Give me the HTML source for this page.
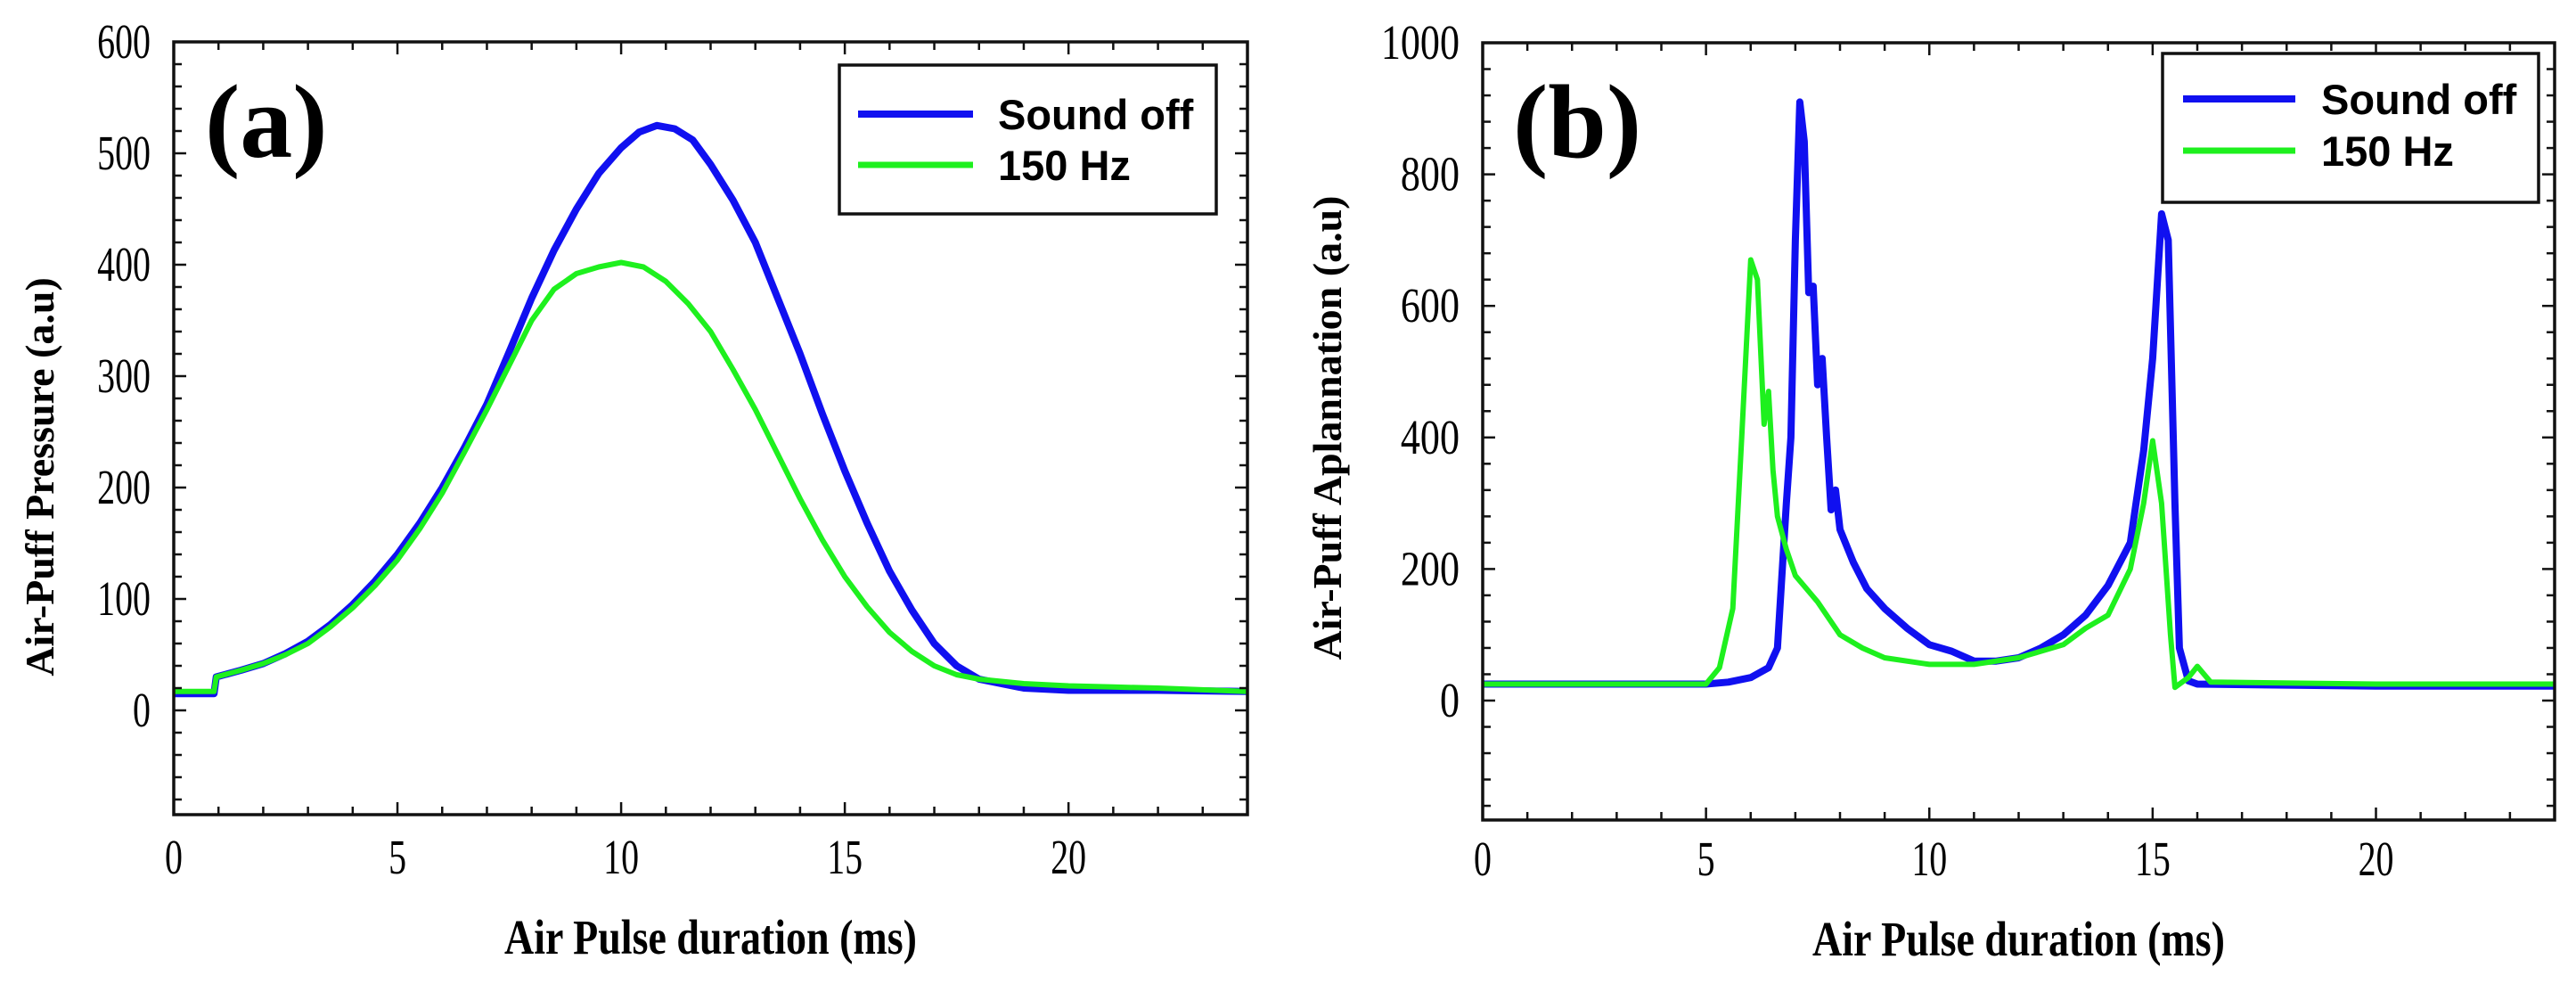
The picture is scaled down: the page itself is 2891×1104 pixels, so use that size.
<!DOCTYPE html>
<html><head><meta charset="utf-8"><style>
html,body{margin:0;padding:0;background:#fff;}
svg{display:block;}
</style></head><body>
<svg id="fig" xmlns="http://www.w3.org/2000/svg" width="2891" height="1104" viewBox="0 0 2891 1104">
<rect width="2891" height="1104" fill="#fff"/>
<g id="pa"></g>
<g id="pb"></g>
</svg>
<script>
// Panel (a) data
const aBlueX = [0,0.9,0.95,1.5,2,2.5,3,3.5,4,4.5,5,5.5,6,6.5,7,7.5,8,8.5,9,9.5,10,10.4,10.8,11.2,11.6,12,12.5,13,13.5,14,14.5,15,15.5,16,16.5,17,17.5,18,19,20,22,24];
const aBlueY = [15,15,30,36,42,51,62,77,95,116,140,168,200,236,275,322,370,413,450,482,505,519,525,522,512,490,458,420,370,320,266,215,168,125,90,60,40,28,20,18,18,17];
const aGreenX = [0,0.9,0.95,1.5,2,2.5,3,3.5,4,4.5,5,5.5,6,6.5,7,7.5,8,8.5,9,9.5,10,10.5,11,11.5,12,12.5,13,13.5,14,14.5,15,15.5,16,16.5,17,17.5,18,19,20,21,22,24];
const aGreenY = [17,17,30,36,42,50,60,75,92,112,135,163,195,232,270,310,350,378,392,398,402,398,385,365,340,306,270,230,190,153,120,93,70,53,40,32,28,24,22,21,20,17];
// Panel (b) data
const bBlueX = [0,5,5.5,6,6.4,6.6,6.8,6.9,7.0,7.1,7.2,7.3,7.4,7.5,7.6,7.7,7.8,7.9,8,8.3,8.6,9,9.5,10,10.5,11,11.5,12,12.5,13,13.5,14,14.5,14.8,15.0,15.2,15.35,15.5,15.6,15.8,16,20,24];
const bBlueY = [25,25,28,35,50,80,300,400,700,910,850,620,630,480,520,400,290,320,260,210,170,140,110,85,75,60,60,65,80,100,130,175,240,380,520,740,700,300,80,30,25,22,22];
const bGreenX = [0,5,5.3,5.6,5.8,6.0,6.15,6.3,6.4,6.5,6.6,6.8,7,7.5,8,8.5,9,10,11,12,13,13.5,14,14.5,14.8,15.0,15.2,15.4,15.5,15.8,16,16.3,20,24];
const bGreenY = [25,25,50,140,400,670,640,420,470,350,280,230,190,150,100,80,65,55,55,65,85,110,130,200,300,395,300,100,20,35,52,28,25,25];
const xTicks = [0,5,10,15,20];
const aYTicks = [0,100,200,300,400,500,600];
const bYTicks = [0,200,400,600,800,1000];
const seriesNames = ["Sound off","150 Hz"];

const NS="http://www.w3.org/2000/svg";
function mk(parent,tag,attrs,text){const e=document.createElementNS(NS,tag);for(const k in attrs)e.setAttribute(k,attrs[k]);if(text!==undefined)e.textContent=text;parent.appendChild(e);return e;}

function panel(g,cfg){
  const L=cfg.L,R=cfg.R,T=cfg.T,B=cfg.B;
  const sx=v=>L+(v-0)/(24-0)*(R-L);
  const sy=v=>cfg.y0px-(v)/(cfg.yTop)*(cfg.y0px-T);
  const sers=[[cfg.bx,cfg.by,"#1010f0",8,"series-sound-off"],[cfg.gx,cfg.gy,"#1ef01e",6,"series-150hz"]];
  for(const s of sers){
    const pts=s[0].map((x,i)=>sx(x).toFixed(1)+","+sy(s[1][i]).toFixed(1)).join(" ");
    const p=mk(g,"polyline",{points:pts,fill:"none",stroke:s[2],"stroke-width":s[3],"stroke-linejoin":"round"});
    
    
  }
  const fr=mk(g,"rect",{x:L,y:T,width:R-L,height:B-T,fill:"none",stroke:"#111","stroke-width":3.5});
  
  
  for(let v=0;v<=24;v++){
    const len=v%5===0?14:9;const x=sx(v);
    mk(g,"line",{x1:x,y1:B,x2:x,y2:B-len,stroke:"#111","stroke-width":2.5});
    mk(g,"line",{x1:x,y1:T,x2:x,y2:T+len,stroke:"#111","stroke-width":2.5});
  }
  for(const v of xTicks){
    const t=mk(g,"text",{x:0,y:0,transform:`translate(${sx(v)},${cfg.xlabY}) scale(0.95,1.3)`,"text-anchor":"middle","font-family":"Liberation Serif, serif","font-size":42},String(v));
    
    
  }
  for(let v=cfg.yMinor*Math.ceil(cfg.yMin/cfg.yMinor);v<=cfg.yTop;v+=cfg.yMinor){
    const y=sy(v);const len=(v%cfg.yMajor===0)?14:9;
    mk(g,"line",{x1:L,y1:y,x2:L+len,y2:y,stroke:"#111","stroke-width":2.5});
    mk(g,"line",{x1:R,y1:y,x2:R-len,y2:y,stroke:"#111","stroke-width":2.5});
  }
  for(const v of cfg.yTicks){
    const t=mk(g,"text",{x:0,y:0,transform:`translate(${L-26},${sy(v)+18}) scale(${cfg.ylsx},1.3)`,"text-anchor":"end","font-family":"Liberation Serif, serif","font-size":42},String(v));
    
    
  }
  const xt=mk(g,"text",{x:0,y:0,transform:`translate(${(L+R)/2},${cfg.xtY}) scale(1,1.2)`,"text-anchor":"middle","font-family":"Liberation Serif, serif","font-size":46,"font-weight":"bold"},"Air Pulse duration (ms)");
  
  
  const yt=mk(g,"text",{x:0,y:0,transform:`translate(${cfg.ytX},${cfg.ytY}) rotate(-90)`,"text-anchor":"middle","font-family":"Liberation Serif, serif","font-size":46,"font-weight":"bold"},cfg.ytitle);
  
  
  const pl=mk(g,"text",{x:cfg.plX,y:cfg.plY,"font-family":"Liberation Serif, serif","font-size":118,"font-weight":"bold"},cfg.plabel);
  
  
  const lg=mk(g,"g",{});
  
  
  const lb=cfg.leg;
  mk(lg,"rect",{x:lb[0],y:lb[1],width:lb[2]-lb[0],height:lb[3]-lb[1],fill:"#fff",stroke:"#111","stroke-width":3.5});
  const cols=["#1010f0","#1ef01e"];
  for(let i=0;i<2;i++){
    const y=cfg.legY[i];
    const ln=mk(lg,"line",{x1:cfg.legLX[0],y1:y,x2:cfg.legLX[1],y2:y,stroke:cols[i],"stroke-width":i?7:8});
    
    
    const tx=mk(lg,"text",{x:cfg.legTX,y:y+17,"font-family":"Liberation Sans, sans-serif","font-size":47,"font-weight":"bold"},seriesNames[i]);
    
    
  }
}
panel(document.getElementById('pa'),{L:195,R:1400,T:47,B:914,y0px:797,yTop:600,yMin:-90,yMinor:20,yMajor:100,yTicks:aYTicks,ylsx:0.95,
  bx:aBlueX,by:aBlueY,gx:aGreenX,gy:aGreenY,xlabY:980,xtY:1070,ytX:60,ytY:535,ytitle:"Air-Puff Pressure (a.u)",
  plabel:"(a)",plX:230,plY:176,leg:[942,73,1365,240],legY:[128,185],legLX:[963,1092],legTX:1120});
panel(document.getElementById('pb'),{L:1664,R:2867,T:48,B:920,y0px:786,yTop:1000,yMin:-180,yMinor:40,yMajor:200,yTicks:bYTicks,ylsx:1.05,
  bx:bBlueX,by:bBlueY,gx:bGreenX,gy:bGreenY,xlabY:982,xtY:1072,ytX:1505,ytY:480,ytitle:"Air-Puff Aplannation (a.u)",
  plabel:"(b)",plX:1698,plY:176,leg:[2427,60,2849,227],legY:[111,169],legLX:[2450,2576],legTX:2605});
</script>
</body></html>
